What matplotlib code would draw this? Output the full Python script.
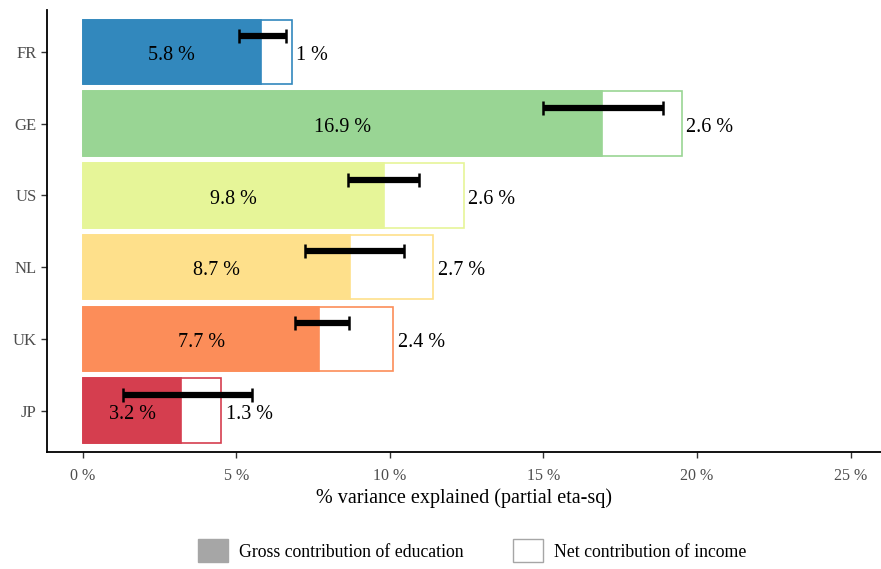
import numpy as np
import matplotlib
matplotlib.use("Agg")
import matplotlib.pyplot as plt
from matplotlib.patches import Patch

plt.rcParams.update({
    "font.family": "serif",
    "font.serif": ["Liberation Serif", "DejaVu Serif"],
    "axes.linewidth": 1.3,
})

countries = ["FR", "GE", "US", "NL", "UK", "JP"]
gross_edu = [5.8, 16.9, 9.8, 8.7, 7.7, 3.2]
net_inc = [1.0, 2.6, 2.6, 2.7, 2.4, 1.3]
ci_low = [5.08, 15.0, 8.63, 7.23, 6.9, 1.3]
ci_high = [6.61, 18.9, 10.94, 10.46, 8.66, 5.5]
colors = ["#3288bd", "#99d594", "#e6f598", "#fee08b", "#fc8d59", "#d53e4f"]
xticks = [0, 5, 10, 15, 20, 25]

fig = plt.figure(figsize=(8.81, 5.69), dpi=100)
ax = fig.add_axes([0.0533, 0.205, 0.947, 0.777])

y = np.arange(len(countries))[::-1]
gross = np.array(gross_edu)
net = np.array(net_inc)
total = gross + net

ax.barh(y, total, height=0.9, color="white", edgecolor=colors, linewidth=1.2, zorder=2)
ax.barh(y, gross, height=0.9, color=colors, edgecolor=colors, linewidth=1.2, zorder=3)

lo = np.array(ci_low)
hi = np.array(ci_high)
mid = (lo + hi) / 2
ax.errorbar(mid, y + 0.22, xerr=(hi - lo) / 2, fmt="none", ecolor="black",
            elinewidth=4.5, capsize=5, capthick=1.8, zorder=4)

for yi, g, t, n in zip(y, gross, total, net):
    ax.text(g / 2, yi - 0.05, f"{g:g} %", ha="center", va="center", fontsize=14.5, zorder=5)
    ax.text(t + 0.15, yi - 0.05, f"{n:g} %", ha="left", va="center", fontsize=14.5, zorder=5)

ax.set_xlim(-1.17, 26.0)
ax.set_ylim(-0.58, 5.58)
ax.set_xticks(xticks)
ax.set_xticklabels([f"{v} %" for v in xticks], fontsize=11.5, color="#4d4d4d")
ax.set_yticks(y)
ax.set_yticklabels(countries, fontsize=12, color="#4d4d4d")
ax.tick_params(axis="both", length=4, width=1.0, color="#333333")
ax.tick_params(axis="x", pad=7)
ax.spines["top"].set_visible(False)
ax.spines["right"].set_visible(False)
ax.set_xlabel("% variance explained (partial eta-sq)", fontsize=14.5, labelpad=3)

handles = [Patch(facecolor="#a6a6a6", edgecolor="#a6a6a6", label="Gross contribution of education"),
           Patch(facecolor="white", edgecolor="#a6a6a6", label="Net contribution of income")]
fig.legend(handles=handles, loc="center", bbox_to_anchor=(0.536, 0.032), ncol=2,
           frameon=False, fontsize=12.8, handlelength=1.7, handleheight=1.6,
           columnspacing=2.8, handletextpad=0.6, borderpad=0)

fig.savefig("out.png", dpi=100)
